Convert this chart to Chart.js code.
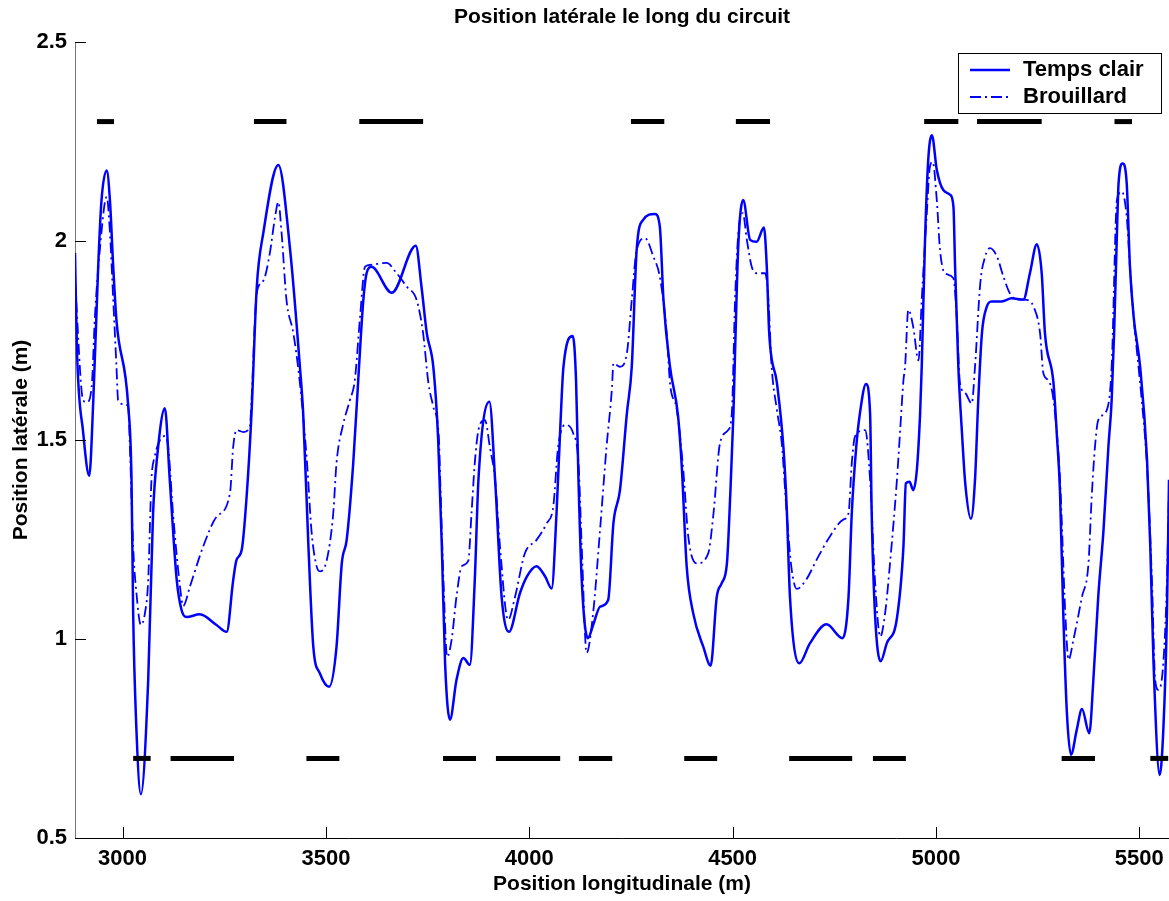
<!DOCTYPE html>
<html>
<head>
<meta charset="utf-8">
<title>Position latérale le long du circuit</title>
<script src="https://cdn.jsdelivr.net/npm/chart.js@4.4.1/dist/chart.umd.min.js"></script>
<style>
  html, body { margin: 0; padding: 0; background: #fff; }
  canvas { display: block; }
</style>
</head>
<body>
<canvas id="chart" width="1169" height="901"></canvas>
<script>
// ---- data ----
var clairX = [2883,2888,2903,2918,2928,2940,2948,2961,2969,2977,2985,3014,3022,3026,3033,3045,3063,3075,3085,3104,
  3116,3133,3145,3157,3190,3231,3256,3272,3280,3293,3305,3317,3330,3346,3383,3412,3436,3444,3457,3469,
  3485,3508,3526,3539,3551,3567,3579,3592,3600,3612,3662,3721,3735,3748,3764,3776,3785,3793,3805,3821,
  3838,3854,3866,3875,3902,3916,3932,3950,3977,3994,4018,4039,4055,4067,4076,4084,4107,4115,4121,4129,
  4144,4157,4174,4194,4207,4223,4240,4252,4264,4280,4309,4321,4330,4346,4366,4375,4387,4403,4428,4446,
  4461,4473,4486,4494,4502,4506,4514,4526,4543,4559,4577,4584,4590,4609,4625,4633,4641,4664,4690,4731,
  4770,4785,4793,4804,4813,4828,4838,4842,4850,4864,4879,4904,4920,4926,4935,4944,4953,4961,4965,4973,
  4981,4990,5002,5018,5035,5043,5047,5055,5064,5072,5086,5096,5104,5113,5125,5137,5162,5186,5215,5231,
  5248,5260,5268,5289,5297,5305,5313,5322,5332,5346,5359,5377,5387,5399,5412,5424,5432,5438,5445,5449,
  5459,5469,5477,5486,5502,5519,5527,5535,5550,5559,5568,5573];
var clairY = [1.97,1.72,1.52,1.41,1.60,1.935,2.10,2.177,2.10,1.935,1.80,1.584,1.40,1.065,0.80,0.61,0.897,1.317,1.458,1.58,
  1.40,1.15,1.073,1.055,1.062,1.035,1.018,1.148,1.198,1.224,1.358,1.567,1.885,2.02,2.191,1.977,1.684,1.568,1.232,0.98,
  0.914,0.88,0.98,1.19,1.249,1.44,1.643,1.852,1.919,1.935,1.87,1.988,1.885,1.768,1.684,1.50,1.232,0.939,0.797,0.897,
  0.952,0.935,1.148,1.40,1.596,1.40,1.106,1.018,1.115,1.157,1.183,1.157,1.127,1.316,1.525,1.684,1.761,1.65,1.40,1.148,
  1.002,1.035,1.081,1.098,1.292,1.374,1.567,1.684,1.977,2.053,2.068,2.036,1.852,1.684,1.559,1.433,1.183,1.065,0.98,0.933,
  1.106,1.14,1.19,1.358,1.567,1.72,1.99,2.103,2.003,1.998,2.034,1.935,1.768,1.643,1.48,1.33,1.106,0.939,0.989,1.037,
  1.002,1.106,1.316,1.483,1.567,1.641,1.567,1.316,1.065,0.944,0.989,1.052,1.232,1.391,1.395,1.374,1.425,1.567,1.684,2.0,
  2.204,2.266,2.179,2.128,2.116,2.086,1.935,1.684,1.517,1.391,1.302,1.40,1.60,1.768,1.835,1.848,1.848,1.856,1.853,1.919,
  1.992,1.919,1.768,1.643,1.517,1.37,1.065,0.813,0.709,0.771,0.824,0.763,0.897,1.106,1.274,1.483,1.6,1.768,2.02,2.145,
  2.195,2.145,1.935,1.81,1.684,1.45,1.232,0.939,0.658,0.771,1.065,1.40];

var brouillardX = [2883,2903,2912,2924,2932,2944,2961,2969,2977,2985,2989,3002,3014,3018,3026,3034,3045,3055,3063,3071,
  3079,3092,3104,3112,3124,3141,3149,3166,3198,3231,3264,3272,3280,3297,3313,3317,3330,3346,3362,3375,
  3383,3391,3403,3420,3436,3453,3465,3477,3485,3502,3518,3526,3543,3559,3571,3584,3596,3608,3649,3674,
  3699,3723,3739,3752,3764,3778,3781,3789,3798,3809,3821,3834,3850,3858,3866,3875,3891,3903,3916,3928,
  3948,3965,3989,4018,4043,4059,4071,4088,4108,4121,4129,4141,4157,4174,4190,4203,4207,4223,4240,4252,
  4264,4285,4305,4321,4338,4346,4363,4379,4391,4412,4440,4453,4469,4489,4498,4506,4514,4525,4535,4547,
  4559,4580,4588,4596,4609,4621,4633,4645,4658,4682,4707,4740,4772,4785,4793,4801,4826,4838,4850,4863,
  4875,4887,4904,4912,4920,4924,4932,4944,4957,4965,4977,4985,4992,5002,5010,5022,5043,5051,5059,5072,
  5088,5096,5109,5121,5133,5150,5166,5182,5199,5223,5240,5256,5264,5276,5289,5305,5318,5326,5338,5359,
  5375,5383,5391,5399,5420,5432,5445,5457,5469,5477,5486,5498,5506,5519,5531,5539,5547,5559,5568,5573];
var brouillardY = [1.90,1.60,1.595,1.634,1.81,1.977,2.111,2.02,1.852,1.684,1.60,1.59,1.584,1.483,1.232,1.116,1.035,1.065,1.148,1.40,
  1.458,1.50,1.51,1.483,1.316,1.133,1.083,1.133,1.232,1.307,1.366,1.483,1.525,1.52,1.533,1.60,1.87,1.90,1.969,2.061,
  2.098,2.02,1.852,1.768,1.643,1.45,1.266,1.183,1.17,1.198,1.316,1.442,1.542,1.60,1.65,1.81,1.935,1.94,1.945,1.919,
  1.885,1.852,1.768,1.643,1.584,1.50,1.40,1.148,0.955,0.998,1.106,1.183,1.196,1.316,1.442,1.525,1.55,1.483,1.40,1.232,
  1.048,1.106,1.215,1.249,1.291,1.333,1.483,1.538,1.517,1.442,1.232,0.965,1.065,1.274,1.483,1.626,1.693,1.684,1.718,1.852,
  1.977,2.007,1.961,1.91,1.768,1.643,1.575,1.42,1.257,1.19,1.215,1.316,1.492,1.525,1.567,1.852,2.02,2.07,2.003,1.935,
  1.919,1.919,1.852,1.684,1.575,1.49,1.316,1.176,1.126,1.151,1.20,1.259,1.30,1.316,1.442,1.509,1.525,1.40,1.148,1.006,
  1.065,1.19,1.40,1.525,1.65,1.684,1.827,1.785,1.70,1.852,2.061,2.186,2.199,2.103,1.977,1.919,1.906,1.81,1.643,1.618,
  1.592,1.684,1.894,1.961,1.982,1.961,1.91,1.868,1.853,1.852,1.835,1.768,1.668,1.65,1.60,1.40,1.065,0.948,0.998,1.106,
  1.19,1.358,1.483,1.55,1.575,1.684,2.103,2.124,2.061,1.935,1.81,1.684,1.60,1.433,1.148,0.897,0.872,0.939,1.148,1.383];

// black segments (start/end along the circuit) at two lateral levels
var topLevel = 2.3;
var topStart = [2937,3323,3582,4250,4508,4971,5101,5439];
var topEnd   = [2979,3403,3739,4332,4592,5055,5260,5482];
var bottomLevel = 0.7;
var bottomStart = [3026,3118,3452,3788,3918,4122,4381,4639,4845,5309,5527];
var bottomEnd   = [3069,3274,3533,3869,4076,4204,4462,4794,4926,5391,5571];

var xTicks = [3000,3500,4000,4500,5000,5500];
var xTickLabels = ['3000','3500','4000','4500','5000','5500'];
var yTicks = [0.5,1,1.5,2,2.5];
var yTickLabels = ['0.5','1','1.5','2','2.5'];

var seriesNames = ['Temps clair','Brouillard'];
var titleText = 'Position latérale le long du circuit';
var xTitle = 'Position longitudinale (m)';
var yTitle = 'Position latérale (m)';

// ---- build ----
var FONT = '"Liberation Sans", Arial, Helvetica, sans-serif';
var BLUE = '#0000ff';
var DASHDOT = [11, 4, 2, 4];

function pts(xs, ys){
    return xs.map(function(x, i){ return { x: x, y: ys[i] }; });
}

var datasets = [];
function addBars(starts, ends, level){
    for (var i = 0; i < starts.length; i++) {
        datasets.push({
            label: 'bar',
            data: [{ x: starts[i], y: level }, { x: ends[i], y: level }],
            borderColor: '#000',
            borderWidth: 5,
            borderCapStyle: 'butt',
            pointRadius: 0,
            fill: false,
            order: 0
        });
    }
}
addBars(topStart, topEnd, topLevel);
addBars(bottomStart, bottomEnd, bottomLevel);

datasets.push({
    label: seriesNames[0],
    data: pts(clairX, clairY),
    borderColor: BLUE,
    borderWidth: 2.5,
    pointRadius: 0,
    cubicInterpolationMode: 'monotone',
    fill: false,
    order: 1
});
datasets.push({
    label: seriesNames[1],
    data: pts(brouillardX, brouillardY),
    borderColor: BLUE,
    borderWidth: 1.8,
    borderDash: DASHDOT,
    pointRadius: 0,
    cubicInterpolationMode: 'monotone',
    fill: false,
    order: 2
});

// title centred over the axes, inward ticks, legend box
var decorPlugin = {
    id: 'decor',
    afterDraw: function(chart){
        var ctx = chart.ctx, a = chart.chartArea;
        var xs = chart.scales.x, ys = chart.scales.y;
        ctx.save();
        // title
        ctx.fillStyle = '#000';
        ctx.font = 'bold 21px ' + FONT;
        ctx.textAlign = 'center';
        ctx.textBaseline = 'middle';
        ctx.fillText(titleText, (a.left + a.right) / 2, 17);

        // inward tick marks
        ctx.strokeStyle = '#000';
        ctx.lineWidth = 1;
        ctx.beginPath();
        xTicks.forEach(function(v){
            var px = Math.round(xs.getPixelForValue(v)) + 0.5;
            ctx.moveTo(px, a.bottom);
            ctx.lineTo(px, a.bottom - 11);
        });
        yTicks.forEach(function(v){
            var py = Math.round(ys.getPixelForValue(v)) + 0.5;
            ctx.moveTo(a.left, py);
            ctx.lineTo(a.left + 11, py);
        });
        ctx.stroke();

        // legend
        var bw = 203, bh = 60;
        var bx = a.right - 8 - bw, by = a.top + 11;
        ctx.fillStyle = '#fff';
        ctx.fillRect(bx, by, bw, bh);
        ctx.strokeStyle = '#000';
        ctx.strokeRect(bx + 0.5, by + 0.5, bw, bh);
        var rows = [by + 17, by + 44];
        ctx.strokeStyle = BLUE;
        ctx.lineWidth = 2.5;
        ctx.beginPath();
        ctx.moveTo(bx + 12, rows[0]); ctx.lineTo(bx + 52, rows[0]);
        ctx.stroke();
        ctx.lineWidth = 1.8;
        ctx.setLineDash(DASHDOT);
        ctx.beginPath();
        ctx.moveTo(bx + 12, rows[1]); ctx.lineTo(bx + 52, rows[1]);
        ctx.stroke();
        ctx.setLineDash([]);
        ctx.fillStyle = '#000';
        ctx.textAlign = 'left';
        ctx.font = 'bold 22px ' + FONT;
        ctx.fillText(seriesNames[0], bx + 65, rows[0]);
        ctx.fillText(seriesNames[1], bx + 65, rows[1]);
        ctx.restore();
    }
};

new Chart(document.getElementById('chart'), {
    type: 'line',
    data: { datasets: datasets },
    options: {
        responsive: false,
        devicePixelRatio: 1,
        animation: false,
        layout: { padding: { top: 42, left: 0, right: 0, bottom: 0 } },
        plugins: {
            legend: { display: false },
            title: { display: false },
            tooltip: { enabled: false }
        },
        scales: {
            x: {
                type: 'linear',
                min: 2883,
                max: 5573,
                afterBuildTicks: function(s){ s.ticks = xTicks.map(function(v){ return { value: v }; }); },
                afterFit: function(s){ s.height = 63; s.paddingLeft = 0; s.paddingRight = 0; },
                ticks: {
                    color: '#000', padding: 8, maxRotation: 0,
                    font: { family: FONT, size: 22, weight: 'bold' },
                    callback: function(v){ var i = xTicks.indexOf(v); return i >= 0 ? xTickLabels[i] : ''; }
                },
                grid: { drawOnChartArea: false, drawTicks: false },
                border: { display: true, color: '#000', width: 1 },
                title: { display: true, text: xTitle, color: '#000', padding: { top: 0, bottom: 4 }, font: { family: FONT, size: 21, weight: 'bold' } }
            },
            y: {
                type: 'linear',
                min: 0.5,
                max: 2.5,
                afterBuildTicks: function(s){ s.ticks = yTicks.map(function(v){ return { value: v }; }); },
                afterFit: function(s){ s.width = 75; s.paddingTop = 0; s.paddingBottom = 0; },
                ticks: {
                    color: '#000', padding: 8,
                    font: { family: FONT, size: 22, weight: 'bold' },
                    callback: function(v){ var i = yTicks.indexOf(v); return i >= 0 ? yTickLabels[i] : ''; }
                },
                grid: { drawOnChartArea: false, drawTicks: false },
                border: { display: true, color: '#777', width: 1 },
                title: { display: true, text: yTitle, color: '#000', padding: { top: 9, bottom: 0 }, font: { family: FONT, size: 21, weight: 'bold' } }
            }
        }
    },
    plugins: [decorPlugin]
});
</script>
</body>
</html>
